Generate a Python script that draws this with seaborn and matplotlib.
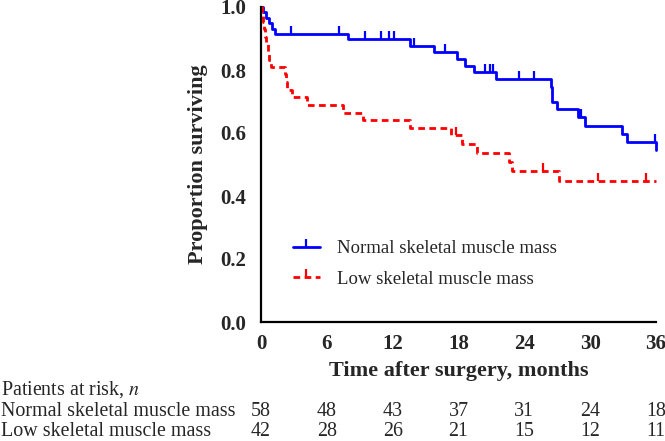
import numpy as np
import pandas as pd
import matplotlib
matplotlib.use("Agg")
import matplotlib.pyplot as plt
import matplotlib.transforms as mtransforms
from matplotlib.lines import Line2D
import seaborn as sns

# ---------------- data ----------------
group_names = ["Normal skeletal muscle mass", "Low skeletal muscle mass"]

normal_time = [0, 0.2, 0.5, 0.7, 1.0, 1.3, 7.9, 13.6, 15.8, 17.9, 18.6, 19.4, 21.4,
               26.4, 26.5, 27.0, 28.9, 29.5, 32.9, 33.4, 36.0]
normal_surv = [1.0, 0.983, 0.966, 0.948, 0.931, 0.914, 0.897, 0.876, 0.856, 0.835, 0.814,
               0.793, 0.770, 0.745, 0.697, 0.676, 0.650, 0.623, 0.597, 0.570, 0.546]
normal_cens_time = [2.7, 7.1, 9.5, 10.9, 11.7, 12.1, 13.9, 16.8, 20.4, 20.9, 21.1,
                    23.5, 24.9, 29.0, 29.2, 35.9]
normal_cens_surv = [0.914, 0.914, 0.897, 0.897, 0.897, 0.897, 0.876, 0.856, 0.793, 0.793,
                    0.793, 0.770, 0.770, 0.650, 0.650, 0.570]

low_time = [0, 0.1, 0.2, 0.3, 0.4, 0.5, 0.6, 0.7, 0.9, 2.2, 2.3, 2.4, 2.8, 4.2, 7.5, 9.3,
            13.6, 17.3, 18.3, 19.7, 22.6, 22.9, 27.2, 36.0]
low_surv = [1.0, 0.976, 0.952, 0.929, 0.905, 0.881, 0.857, 0.833, 0.810, 0.786, 0.762,
            0.738, 0.713, 0.689, 0.665, 0.640, 0.615, 0.594, 0.565, 0.537, 0.508, 0.479,
            0.448, 0.448]
low_cens_time = [17.8, 25.7, 30.7, 35.1]
low_cens_surv = [0.594, 0.479, 0.448, 0.448]

risk_times = [0, 6, 12, 18, 24, 30, 36]
risk_normal = [58, 48, 43, 37, 31, 24, 18]
risk_low = [42, 28, 26, 21, 15, 12, 11]

x_ticks = [0, 6, 12, 18, 24, 30, 36]
y_ticks = [0.0, 0.2, 0.4, 0.6, 0.8, 1.0]

colors = {group_names[0]: "#0000FF", group_names[1]: "#FF0000"}

# ---------------- figure ----------------
sns.set_theme(style="white")
plt.rcParams["font.family"] = ["Liberation Serif", "DejaVu Serif"]
plt.rcParams["mathtext.fontset"] = "stix"

fig = plt.figure(figsize=(6.65, 4.41), dpi=100)
ax = fig.add_axes([261 / 665, 1 - 322 / 441, (656 - 261) / 665, (322 - 7) / 441])

df = pd.concat([
    pd.DataFrame({"time": normal_time, "surv": normal_surv, "group": group_names[0]}),
    pd.DataFrame({"time": low_time, "surv": low_surv, "group": group_names[1]}),
], ignore_index=True)

sns.lineplot(data=df, x="time", y="surv", hue="group", style="group",
             hue_order=group_names, style_order=group_names,
             palette=colors, dashes={group_names[0]: "", group_names[1]: (2.4, 1.6)},
             estimator=None, sort=False, drawstyle="steps-post", linewidth=2.0,
             legend=False, ax=ax, clip_on=False)

ax.plot(normal_cens_time, normal_cens_surv, ls="none", marker=2, ms=6, mew=1.6,
        color=colors[group_names[0]], clip_on=False)
ax.plot(low_cens_time, low_cens_surv, ls="none", marker=2, ms=6, mew=1.6,
        color=colors[group_names[1]], clip_on=False)

ax.set_xlim(0, 36)
ax.set_ylim(0, 1.0)
ax.set_xticks(x_ticks)
ax.set_yticks(y_ticks)
ax.set_yticklabels([f"{v:.1f}" for v in y_ticks])
for s in ["top", "right"]:
    ax.spines[s].set_visible(False)
for s in ["left", "bottom"]:
    ax.spines[s].set_color("black")
    ax.spines[s].set_linewidth(1.6)
ax.tick_params(axis="both", which="major", direction="out", length=4.5, width=1.6,
               color="black", labelsize=15)
ax.tick_params(axis="x", pad=4)
ax.tick_params(axis="y", pad=6)
for lab in ax.get_xticklabels() + ax.get_yticklabels():
    lab.set_fontweight("bold")

ax.set_xlabel("Time after surgery, months", fontsize=16, fontweight="bold", labelpad=5)
ax.set_ylabel("Proportion surviving", fontsize=16, fontweight="bold", labelpad=9)

handles = [
    Line2D([], [], color=colors[group_names[0]], lw=2.0, marker=2, ms=6, mew=1.6),
    Line2D([], [], color=colors[group_names[1]], lw=2.0, ls=(0, (2.4, 1.6)), marker=2, ms=6, mew=1.6),
]
ax.legend(handles, group_names, loc="upper left", bbox_to_anchor=(0.08, 0.26),
          frameon=False, fontsize=13.5, numpoints=1, handlelength=1.45,
          handletextpad=0.9, labelspacing=0.72, borderpad=0, borderaxespad=0)

# risk table
blend = mtransforms.blended_transform_factory(ax.transData, fig.transFigure)
fig.text(0.002, 1 - 390 / 441, r"Patients at risk, $n$", fontsize=14.4, va="center", ha="left")
fig.text(0.002, 1 - 411 / 441, group_names[0], fontsize=14.4, va="center", ha="left")
fig.text(0.002, 1 - 432 / 441, group_names[1], fontsize=14.4, va="center", ha="left")
for t, a, b in zip(risk_times, risk_normal, risk_low):
    ax.text(t, 1 - 411 / 441, str(a), transform=blend, fontsize=14.4, ha="center", va="center")
    ax.text(t, 1 - 432 / 441, str(b), transform=blend, fontsize=14.4, ha="center", va="center")

fig.savefig("out.png", dpi=100)
